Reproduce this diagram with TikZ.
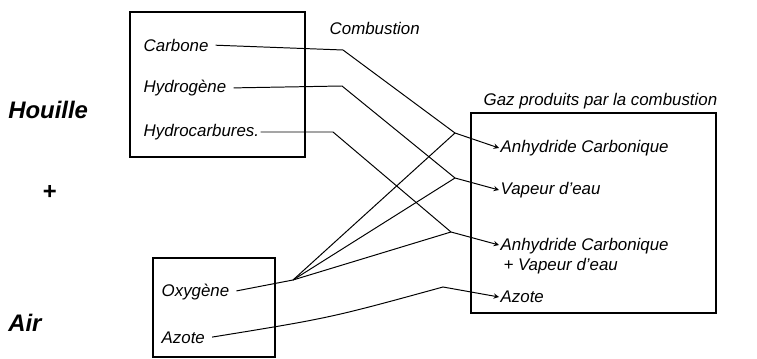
\documentclass[tikz,border=0pt]{standalone}
\usepackage{fontspec}
\setmainfont{Liberation Sans}
\usetikzlibrary{arrows,calc,positioning}

\begin{document}
\begin{tikzpicture}[x=0.025cm,y=-0.025cm]
    \tikzset{item/.style = {anchor=west, inner sep=1pt,
        font=\fontsize{12}{14}\selectfont\itshape},
      gros/.style = {anchor=west, inner sep=0pt,
        font=\fontsize{17}{19}\selectfont\bfseries\itshape},
      cadre/.style = {draw, line width=0.9pt, inner sep=0pt},
      fil/.style = {line width=0.7pt},
      fleche/.style = {fil, ->, >=stealth, shorten <=4pt}}
    \useasboundingbox (0,0) rectangle (757,359);
    % les trois cadres
    \node[cadre, minimum width=4.375cm, minimum height=3.625cm] (houillebox) at (217.5,84.5) {};
    \node[cadre, minimum width=6.125cm, minimum height=5cm] (gazbox) at (593.5,213) {};
    \node[cadre, minimum width=3.05cm, minimum height=2.475cm] (airbox) at (214,307.5) {};
    \node[gros] (houille) at (8,110) {Houille};
    \node[gros] (plus) at (42,192) {+};
    \node[gros] (air) at (8,323) {Air};
    \node[item] (titre) at (328,28) {Combustion};
    \node[item] (titregaz) at (482,101) {Gaz produits par la combustion};
    % combustibles
    \node[item] (C) at (142,45) {Carbone};
    \node[item] (H) at (142,88) {Hydrogène};
    \node[item] (HC) at (142,132) {Hydrocarbures.};
    \node[item] (O) at (160,292) {Oxygène};
    \node[item] (N) at (160,338) {Azote};
    % produits
    \node[item] (CO) at (499,148) {Anhydride Carbonique};
    \node[item] (HO) at (499,190) {Vapeur d'eau};
    \node[item, align=left, anchor=north west] (CHO) at (499,237) {Anhydride Carbonique\\\,+ Vapeur d'eau};
    \node[item] (NN) at (499,297) {Azote};
    % points de jonction
    \coordinate (kc) at (343,50);
    \coordinate (kh) at (342,86);
    \coordinate (khc) at (333,132);
    \coordinate (mc) at (455,133);
    \coordinate (mh) at (455,178);
    \coordinate (mx) at (451,232);
    \coordinate (ko) at (293,280);
    \coordinate (kn) at (443,287);
    \draw[fleche] (C.east) -- (kc) -- (mc) -- (CO.west);
    \draw[fleche] (H.east) -- (kh) -- (mh) -- (HO.west);
    \draw[fleche, shorten <=0pt] (HC.east) -- (khc) -- (mx) -- (CHO.west |- 0,245);
    \draw[fil, shorten <=4pt] (O.east) -- (ko) -- (mc);
    \draw[fil] (ko) -- (mh);
    \draw[fil] (ko) -- (mx);
    \draw[fleche] (N.east) .. controls (330,318) .. (kn) -- (NN.west);
\end{tikzpicture}
\end{document}
